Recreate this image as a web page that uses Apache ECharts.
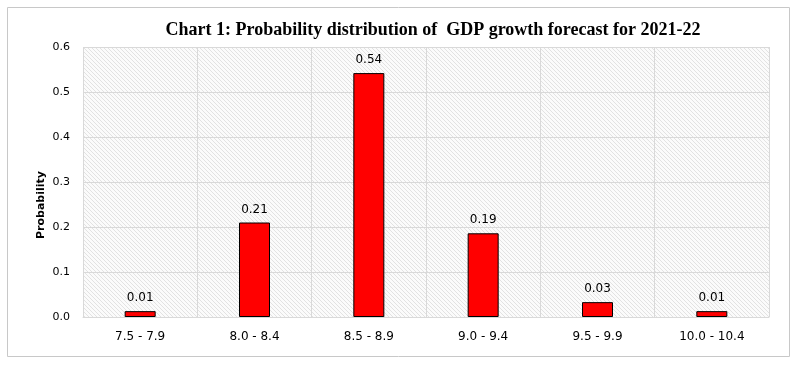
<!DOCTYPE html>
<html><head><meta charset="utf-8">
<script src="https://cdn.jsdelivr.net/npm/echarts@6/dist/echarts.min.js"></script>
<style>html,body{margin:0;padding:0;background:#fff}#c{width:796px;height:365px}</style>
</head><body><div id="c"></div>
<script>
var categories = ['7.5 - 7.9', '8.0 - 8.4', '8.5 - 8.9', '9.0 - 9.4', '9.5 - 9.9', '10.0 - 10.4'];
var probabilities = [0.013, 0.21, 0.542, 0.186, 0.033, 0.013];
var yTicks = [0, 0.1, 0.2, 0.3, 0.4, 0.5, 0.6];

var pc = document.createElement('canvas');
pc.width = 4; pc.height = 4;
var g = pc.getContext('2d');
g.fillStyle = '#fbfbfb'; g.fillRect(0, 0, 4, 4);
g.fillStyle = '#e2e2e2';
for (var i = 0; i < 4; i++) { g.fillRect(i, i, 1, 1); }

var chart = echarts.init(document.getElementById('c'), null, {renderer: 'canvas'});
chart.setOption({
  animation: false,
  title: {
    text: 'Chart 1: Probability distribution of  GDP growth forecast for 2021-22',
    left: 428, top: 16, textAlign: 'center',
    textStyle: {fontFamily: 'Liberation Serif', fontWeight: 'bold', fontSize: 18, color: '#000'}
  },
  graphic: [
    {type: 'rect', shape: {x: 7.5, y: 7.5, width: 782, height: 349}, style: {fill: 'none', stroke: '#c8c8c8', lineWidth: 1}, z: -1},
    {type: 'text', x: 41, y: 205, rotation: Math.PI / 2,
     style: {text: 'Probability', fontFamily: 'DejaVu Sans', fontWeight: 'bold', fontSize: 11, fill: '#000', align: 'center', verticalAlign: 'middle'}}
  ],
  grid: {left: 83, right: 27, top: 47, bottom: 48, show: true, borderWidth: 0,
    backgroundColor: {image: pc, repeat: 'repeat'}},
  xAxis: {
    type: 'category', data: categories,
    axisLine: {show: true, lineStyle: {color: '#d9d9d9'}},
    axisTick: {show: false},
    splitLine: {show: true, lineStyle: {color: '#d9d9d9'}},
    axisLabel: {fontFamily: 'DejaVu Sans', fontSize: 12, color: '#000', margin: 14}
  },
  yAxis: {
    type: 'value', min: yTicks[0], max: yTicks[yTicks.length - 1], interval: 0.1,
    axisLine: {show: false}, axisTick: {show: false},
    splitLine: {lineStyle: {color: '#d9d9d9'}},
    axisLabel: {fontFamily: 'DejaVu Sans', fontSize: 11, color: '#000', margin: 13,
      formatter: function (v) { return v.toFixed(1); }}
  },
  series: [{
    type: 'bar', data: probabilities, barWidth: 31,
    itemStyle: {color: '#ff0000', borderColor: '#000', borderWidth: 1},
    label: {show: true, position: 'top', distance: 7, fontFamily: 'DejaVu Sans', fontSize: 12, color: '#000',
      formatter: function (p) { return p.value.toFixed(2); }}
  }]
});
</script></body></html>
